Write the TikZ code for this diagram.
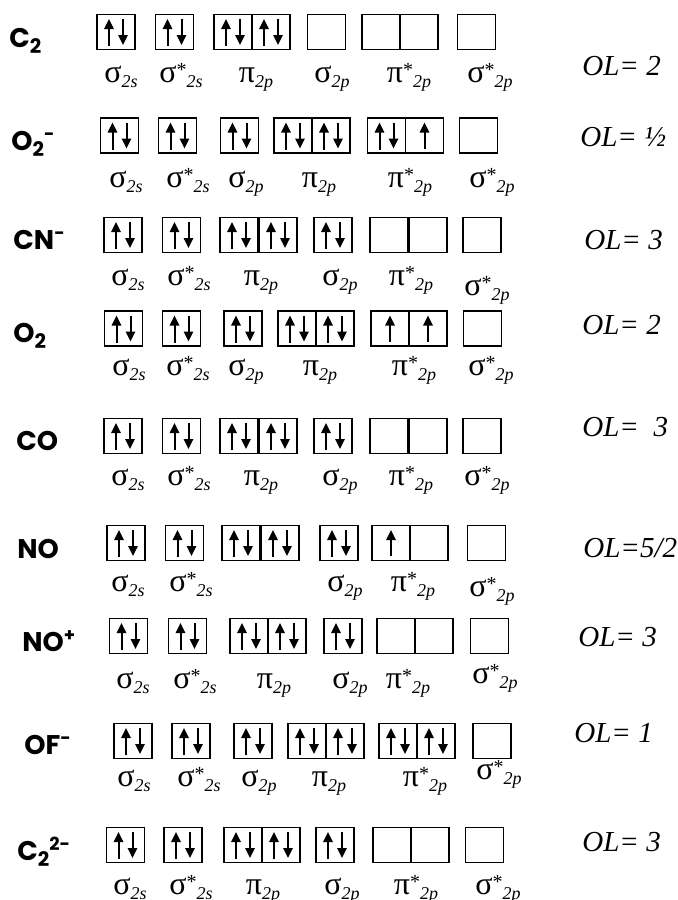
\documentclass[tikz,border=0pt]{standalone}
\usepackage{fontspec}
\setmainfont{Liberation Serif}
\newfontfamily\molfont{Poppins}
\usetikzlibrary{arrows.meta}

\newcommand\msub[1]{\raisebox{-2.5pt}{\fontsize{9}{9}\selectfont\itshape #1}}
\newcommand\mstar{\raisebox{3pt}{\fontsize{10}{10}\selectfont *}}
\newcommand\msb[1]{\raisebox{-3pt}{\fontsize{10}{10}\selectfont #1}}
\newcommand\msp[1]{\raisebox{5pt}{\fontsize{9}{9}\selectfont #1}}
\newcommand\sigs{σ\msub{2s}}
\newcommand\sigsx{σ\mstar\msub{2s}}
\newcommand\sigp{σ\msub{2p}}
\newcommand\sigpx{σ\mstar\msub{2p}}
\newcommand\pip{π\msub{2p}}
\newcommand\pipx{π\mstar\msub{2p}}
% electrons in one box: 0, 1 (up) or 2 (up and down)
\newcommand\spins[2]{%
 \ifcase#2\relax
 \or \draw[spin] ([yshift=-6.5pt]#1.center) -- ([yshift=6.5pt]#1.center);
 \or \draw[spin] ([xshift=-3.5pt,yshift=-7pt]#1.center) -- ([xshift=-3.5pt,yshift=6.5pt]#1.center);
     \draw[spin] ([xshift=3.5pt,yshift=6.5pt]#1.center) -- ([xshift=3.5pt,yshift=-6.5pt]#1.center);
 \fi}

\begin{document}
\begin{tikzpicture}[x=0.5pt,y=-0.5pt,
 orb/.style={draw,line width=0.85pt,minimum width=19pt,minimum height=17.5pt,inner sep=0pt},
 spin/.style={line width=1pt,-{Triangle[length=5pt,width=4.6pt]}},
 lbl/.style={anchor=base,inner sep=0pt,font=\fontsize{16}{16}\selectfont},
 mol/.style={anchor=base west,inner sep=0pt,font=\molfont\bfseries\fontsize{13.5}{14}\selectfont},
 ol/.style={anchor=base west,inner sep=0pt,font=\fontsize{14.5}{15}\selectfont\itshape}]
\useasboundingbox (0,0) rectangle (678,900);
% C2
\node[mol] (c2) at (9,47) {C\msb{2}};
\foreach \b/\x/\e in {a/116/2,b/174.5/2,c/233/2,d/271/2,e/326.5/0,f/381/0,g/419/0,h/476.5/0}
 {\node[orb] (c2\b) at (\x,32) {}; \spins{c2\b}{\e}}
\foreach \t/\x/\y [count=\i] in {\sigs/121/82,\sigsx/181/82,\pip/256/82,\sigp/332/82,\pipx/409/82,\sigpx/490/82}
 \node[lbl] (c2t\i) at (\x,\y) {\t};
\node[ol] (c2ol) at (582,75) {OL= 2};
% O2-
\node[mol] (o2m) at (11,150) {O\msb{2}\msp{-}};
\foreach \b/\x/\e in {a/119.5/2,b/177.5/2,c/239.5/2,d/293/2,e/331/2,f/386.5/2,g/424.5/1,h/478.5/0}
 {\node[orb] (o2m\b) at (\x,135.5) {}; \spins{o2m\b}{\e}}
\foreach \t/\x/\y [count=\i] in {\sigs/126/187,\sigsx/188/187,\sigp/246/187,\pip/319/187,\pipx/410/187,\sigpx/492/187}
 \node[lbl] (o2mt\i) at (\x,\y) {\t};
\node[ol] (o2mol) at (580,146) {OL= ½};
% CN-
\node[mol] (cnm) at (13,249) {CN\msp{-}};
\foreach \b/\x/\e in {a/123/2,b/181.5/2,c/239/2,d/278/2,e/333/2,f/389/0,g/428/0,h/482/0}
 {\node[orb] (cnm\b) at (\x,235) {}; \spins{cnm\b}{\e}}
\foreach \t/\x/\y [count=\i] in {\sigs/128/285,\sigsx/189/285,\pip/261/285,\sigp/340/285,\pipx/411/285,\sigpx/487/295}
 \node[lbl] (cnmt\i) at (\x,\y) {\t};
\node[ol] (cnmol) at (584,249) {OL= 3};
% O2
\node[mol] (o2) at (13,342) {O\msb{2}};
\foreach \b/\x/\e in {a/123.5/2,b/181.5/2,c/243/2,d/297/2,e/335/2,f/390/1,g/428/1,h/482.5/0}
 {\node[orb] (o2\b) at (\x,328.5) {}; \spins{o2\b}{\e}}
\foreach \t/\x/\y [count=\i] in {\sigs/129/375,\sigsx/188/375,\sigp/246/375,\pip/320/375,\pipx/414/375,\sigpx/491/375}
 \node[lbl] (o2t\i) at (\x,\y) {\t};
\node[ol] (o2ol) at (582,334) {OL= 2};
% CO
\node[mol] (co) at (16,450) {CO};
\foreach \b/\x/\e in {a/123/2,b/181.5/2,c/239/2,d/278/2,e/333/2,f/389/0,g/428/0,h/482/0}
 {\node[orb] (co\b) at (\x,436) {}; \spins{co\b}{\e}}
\foreach \t/\x/\y [count=\i] in {\sigs/128/485,\sigsx/189/485,\pip/261/485,\sigp/340/485,\pipx/411/485,\sigpx/487/485}
 \node[lbl] (cot\i) at (\x,\y) {\t};
\node[ol] (cool) at (582,436) {OL=\ \ 3};
% NO
\node[mol] (no) at (17,558) {NO};
\foreach \b/\x/\e in {a/126/2,b/184.5/2,c/241/2,d/280/2,e/339/2,f/391/1,g/429/0,h/486.5/0}
 {\node[orb] (no\b) at (\x,543) {}; \spins{no\b}{\e}}
\foreach \t/\x/\y [count=\i] in {\sigs/128/591,\sigsx/191/591,\sigp/345/591,\pipx/413/591,\sigpx/492/596}
 \node[lbl] (not\i) at (\x,\y) {\t};
\node[ol] (nool) at (583,557) {OL=5/2};
% NO+
\node[mol] (nop) at (22,651) {NO\msp{+}};
\foreach \b/\x/\e in {a/128.5/2,b/187.5/2,c/249/2,d/287/2,e/343/2,f/396/0,g/434/0,h/489.5/0}
 {\node[orb] (nop\b) at (\x,636) {}; \spins{nop\b}{\e}}
\foreach \t/\x/\y [count=\i] in {\sigs/133/688,\sigsx/195/688,\pip/274/688,\sigp/350/688,\pipx/408/688,\sigpx/495/683}
 \node[lbl] (nopt\i) at (\x,\y) {\t};
\node[ol] (nopol) at (578,646) {OL= 3};
% OF-
\node[mol] (ofm) at (24,754) {OF\msp{-}};
\foreach \b/\x/\e in {a/133/2,b/191/2,c/253/2,d/307/2,e/345/2,f/398/2,g/436/2,h/492/0}
 {\node[orb] (ofm\b) at (\x,741) {}; \spins{ofm\b}{\e}}
\foreach \t/\x/\y [count=\i] in {\sigs/134/786,\sigsx/199/786,\sigp/259/786,\pip/329/786,\pipx/425/786,\sigpx/499/779}
 \node[lbl] (ofmt\i) at (\x,\y) {\t};
\node[ol] (ofmol) at (574,742) {OL= 1};
% C2 2-
\node[mol] (c2mm) at (17,860) {C\msb{2}\msp{2-}};
\foreach \b/\x/\e in {a/125.5/2,b/183/2,c/243/2,d/281/2,e/335/2,f/392/0,g/430/0,h/484.5/0}
 {\node[orb] (c2mm\b) at (\x,845) {}; \spins{c2mm\b}{\e}}
\foreach \t/\x/\y [count=\i] in {\sigs/130/894,\sigsx/191/894,\pip/263/894,\sigp/342/894,\pipx/416/894,\sigpx/498/894}
 \node[lbl] (c2mmt\i) at (\x,\y) {\t};
\node[ol] (c2mmol) at (582,851) {OL= 3};
\end{tikzpicture}
\end{document}
